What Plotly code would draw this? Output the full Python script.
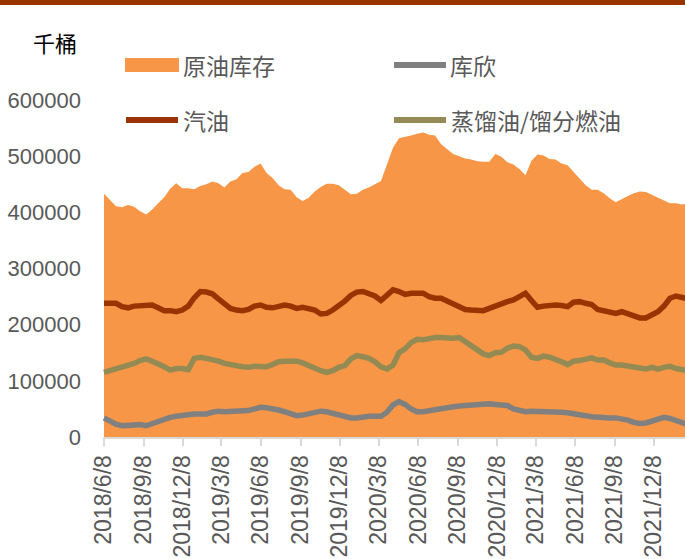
import plotly.graph_objects as go
import pandas as pd

# ---------------- data (千桶, biweekly samples) ----------------
dates = pd.date_range("2018-06-08", periods=98, freq="14D")

crude_stock = [
    433000, 422000, 411000, 409000, 413000, 410000, 402000, 396000, 405000, 416000,
    427000, 442000, 452000, 443000, 443000, 441000, 447000, 450000, 455000, 452000,
    444000, 455000, 459000, 470000, 472000, 481000, 487000, 470000, 461000, 448000,
    441000, 440000, 427000, 420000, 426000, 437000, 445000, 451000, 451000, 448000,
    440000, 432000, 433000, 440000, 444000, 450000, 456000, 485000, 515000, 532000,
    534000, 537000, 540000, 542000, 538000, 537000, 521000, 512000, 504000, 500000,
    496000, 494000, 491000, 490000, 490000, 504000, 499000, 489000, 485000, 477000,
    466000, 492000, 503000, 501000, 495000, 494000, 487000, 484000, 472000, 460000,
    448000, 440000, 440000, 434000, 425000, 418000, 424000, 429000, 434000, 437000,
    436000, 431000, 426000, 420000, 416000, 416000, 414000, 416000,
]

gasoline = [
    238000, 239000, 238000, 232000, 230000, 233000, 234000, 235000, 235000, 230000,
    225000, 225000, 223000, 226000, 233000, 248000, 259000, 258000, 255000, 246000,
    237000, 229000, 226000, 225000, 227000, 233000, 235000, 231000, 230000, 233000,
    235000, 233000, 229000, 231000, 229000, 226000, 219000, 220000, 226000, 233000,
    242000, 252000, 258000, 259000, 256000, 251000, 243000, 252000, 262000, 259000,
    254000, 256000, 257000, 256000, 250000, 247000, 247000, 242000, 237000, 230000,
    227000, 226000, 226000, 225000, 229000, 234000, 237000, 241000, 244000, 250000,
    256000, 243000, 231000, 233000, 235000, 235000, 234000, 232000, 240000, 241000,
    238000, 236000, 227000, 225000, 221000, 220000, 223000, 219000, 215000, 212000,
    212000, 218000, 223000, 233000, 247000, 251000, 248000, 246000,
]

distillate = [
    115000, 118000, 120000, 123000, 127000, 131000, 136000, 139000, 135000, 131000,
    125000, 119000, 122000, 122000, 120000, 140000, 142000, 140000, 138000, 135000,
    131000, 128000, 127000, 125000, 124000, 126000, 126000, 125000, 129000, 134000,
    135000, 136000, 135000, 132000, 127000, 121000, 118000, 115000, 118000, 124000,
    127000, 139000, 145000, 143000, 140000, 134000, 125000, 121000, 128000, 150000,
    157000, 168000, 174000, 173000, 176000, 177000, 177000, 176000, 176000, 177000,
    170000, 162000, 155000, 148000, 145000, 150000, 151000, 158000, 162000, 161000,
    155000, 142000, 140000, 144000, 142000, 139000, 134000, 129000, 135000, 136000,
    138000, 141000, 137000, 137000, 132000, 128000, 128000, 126000, 124000, 122000,
    121000, 124000, 121000, 124000, 126000, 122000, 119000, 118000,
]

cushing = [
    34000, 28000, 23000, 20000, 21000, 23000, 22000, 20000, 24000, 28000,
    32000, 35000, 37000, 39000, 40000, 41000, 41000, 41000, 44000, 46000,
    45000, 45000, 45000, 46000, 47000, 50000, 53000, 52000, 51000, 48000,
    45000, 41000, 38000, 39000, 41000, 44000, 46000, 45000, 42000, 38000,
    35000, 34000, 34000, 36000, 37000, 37000, 37000, 44000, 57000, 63000,
    58000, 50000, 45000, 45000, 47000, 50000, 52000, 53000, 54000, 55000,
    56000, 58000, 59000, 60000, 59000, 58000, 58000, 56000, 50000, 47000,
    45000, 46000, 46000, 45000, 45000, 44000, 44000, 43000, 42000, 40000,
    38000, 36000, 35000, 33000, 34000, 34000, 33000, 30000, 26000, 24000,
    25000, 29000, 33000, 35000, 33000, 29000, 24000, 22000,
]

tick_dates = ["2018-06-08", "2018-09-08", "2018-12-08", "2019-03-08", "2019-06-08",
              "2019-09-08", "2019-12-08", "2020-03-08", "2020-06-08", "2020-09-08",
              "2020-12-08", "2021-03-08", "2021-06-08", "2021-09-08", "2021-12-08"]
tick_labels = ["2018/6/8", "2018/9/8", "2018/12/8", "2019/3/8", "2019/6/8",
               "2019/9/8", "2019/12/8", "2020/3/8", "2020/6/8", "2020/9/8",
               "2020/12/8", "2021/3/8", "2021/6/8", "2021/9/8", "2021/12/8"]
y_ticks = [0, 100000, 200000, 300000, 400000, 500000, 600000]

names = ["原油库存", "库欣", "汽油", "蒸馏油/馏分燃油"]
colors = {"原油库存": "#F79646", "库欣": "#808080", "汽油": "#993300", "蒸馏油/馏分燃油": "#948A54"}

# ---------------- layout geometry ----------------
W, H = 685, 559
L, R, T, B = 103, 0, 100, 122


def px(x):
    return (x - L) / (W - L - R)


def py(y):
    return (H - B - y) / (H - T - B)


CJK = "Noto Sans CJK SC"
NUM = "Liberation Sans"
GRAY = "#595959"

fig = go.Figure()
fig.add_trace(go.Scatter(
    x=dates, y=crude_stock, name=names[0], mode="lines", fill="tozeroy",
    line=dict(width=0, color=colors[names[0]]), fillcolor=colors[names[0]],
    showlegend=False, hoverinfo="skip"))
for nm, vals in [(names[1], cushing), (names[3], distillate), (names[2], gasoline)]:
    fig.add_trace(go.Scatter(
        x=dates, y=vals, name=nm, mode="lines",
        line=dict(width=5.5, color=colors[nm]), showlegend=False))

shapes = [
    # top band
    dict(type="rect", xref="paper", yref="paper", x0=px(0), x1=px(W), y0=py(0), y1=py(5),
         fillcolor="#993300", line=dict(width=0), layer="above"),
    # legend swatches
    dict(type="rect", xref="paper", yref="paper", x0=px(125), x1=px(179), y0=py(58), y1=py(72),
         fillcolor=colors["原油库存"], line=dict(width=0)),
    dict(type="line", xref="paper", yref="paper", x0=px(394), x1=px(446), y0=py(65), y1=py(65),
         line=dict(width=6, color=colors["库欣"])),
    dict(type="line", xref="paper", yref="paper", x0=px(126), x1=px(178), y0=py(120), y1=py(120),
         line=dict(width=6, color=colors["汽油"])),
    dict(type="line", xref="paper", yref="paper", x0=px(394), x1=px(446), y0=py(120), y1=py(120),
         line=dict(width=6, color=colors["蒸馏油/馏分燃油"])),
]

annotations = [
    dict(text="千桶", x=px(31), y=py(42), xref="paper", yref="paper", xanchor="left",
         yanchor="middle", showarrow=False, font=dict(family=CJK, size=22, color="#000000")),
    dict(text=names[0], x=px(181), y=py(65), xref="paper", yref="paper", xanchor="left",
         yanchor="middle", showarrow=False, font=dict(family=CJK, size=23, color=GRAY)),
    dict(text=names[1], x=px(448), y=py(65), xref="paper", yref="paper", xanchor="left",
         yanchor="middle", showarrow=False, font=dict(family=CJK, size=23, color=GRAY)),
    dict(text=names[2], x=px(181), y=py(120), xref="paper", yref="paper", xanchor="left",
         yanchor="middle", showarrow=False, font=dict(family=CJK, size=23, color=GRAY)),
    dict(text=names[3], x=px(449), y=py(120), xref="paper", yref="paper", xanchor="left",
         yanchor="middle", showarrow=False, font=dict(family=CJK, size=23, color=GRAY)),
]

fig.update_layout(
    width=W, height=H,
    margin=dict(l=L, r=R, t=T, b=B, pad=0),
    paper_bgcolor="white", plot_bgcolor="white",
    showlegend=False,
    shapes=shapes, annotations=annotations,
    xaxis=dict(
        type="date", range=["2018-06-05 18:00", "2022-02-18"],
        tickmode="array", tickvals=tick_dates, ticktext=tick_labels, tickangle=-90,
        ticks="outside", ticklen=7, tickwidth=1.5, tickcolor="#D9D9D9",
        showline=True, linecolor="#D9D9D9", linewidth=2,
        showgrid=False, zeroline=False,
        tickfont=dict(family=NUM, size=23, color=GRAY),
    ),
    yaxis=dict(
        range=[0, 600000], tickmode="array", tickvals=y_ticks,
        ticktext=[str(v) for v in y_ticks], ticks="", showline=False,
        showgrid=False, zeroline=False, ticklabelstandoff=21,
        tickfont=dict(family=NUM, size=22, color=GRAY),
    ),
)

fig.write_html(
    "out.html",
    config={"displayModeBar": False},
    post_script="document.body.style.margin='0px';document.body.style.overflow='hidden';",
)
